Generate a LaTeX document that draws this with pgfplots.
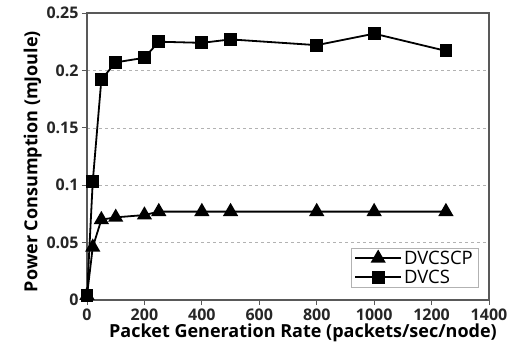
\documentclass[border=0pt]{standalone}
\usepackage{pgfplots}
\pgfplotsset{compat=1.18}
\usepackage{fontspec}
\setmainfont{Open Sans}
\begin{document}
\begin{tikzpicture}[x=1pt,y=1pt]
\useasboundingbox (-87,-60) rectangle (424,300);
\begin{axis}[
  at={(0,0)}, anchor=south west,
  scale only axis, width=402pt, height=287pt,
  xmin=0, xmax=1400, ymin=0, ymax=0.25,
  xtick={0,200,...,1400},
  ytick={0,0.05,0.1,0.15,0.2,0.25},
  yticklabels={0,0.05,0.1,0.15,0.2,0.25},
  /pgf/number format/1000 sep={},
  xticklabel style={font=\fontsize{16}{18}\selectfont\bfseries, text=black!85},
  yticklabel style={font=\fontsize{16}{18}\selectfont\bfseries, text=black!85},
  /pgf/number format/assume math mode=true,
  tick align=outside, tick pos=left,
  major tick length=5pt,
  tick style={gray!70!black, line width=0.8pt},
  axis line style={gray!70!black, line width=1.3pt},
  ymajorgrids, grid style={dashed, gray!60, line width=0.6pt},
  xlabel={Packet Generation Rate (packets/sec/node)},
  ylabel={Power Consumption (mJoule)},
  label style={font=\fontsize{18}{20}\selectfont\bfseries},
  xlabel style={yshift=3pt, xshift=15pt},
  ylabel style={yshift=-2pt, xshift=-5pt},
  legend style={at={(0.973,0.042)}, anchor=south east, draw=gray!60, line width=0.6pt,
    font=\fontsize{18.5}{21}\selectfont, row sep=0pt, inner xsep=3pt, inner ysep=1pt},
  legend cell align=left,
  legend image code/.code={\draw[mark repeat=2,mark phase=2,#1] plot coordinates {(0pt,0pt) (23pt,0pt) (46pt,0pt)};},
]
\addplot[black, line width=1.8pt, mark=triangle*, mark size=7pt, mark options={solid}]
coordinates {(0,0.004) (20,0.046) (50,0.070) (100,0.072) (200,0.074) (250,0.077) (400,0.077) (500,0.077) (800,0.077) (1000,0.077) (1250,0.077)};
\addlegendentry{DVCSCP}
\addplot[black, line width=1.8pt, mark=square*, mark size=5.5pt, mark options={solid}]
coordinates {(0,0.004) (20,0.103) (50,0.192) (100,0.207) (200,0.211) (250,0.225) (400,0.224) (500,0.227) (800,0.222) (1000,0.232) (1250,0.217)};
\addlegendentry{DVCS}
\end{axis}
\end{tikzpicture}
\end{document}
